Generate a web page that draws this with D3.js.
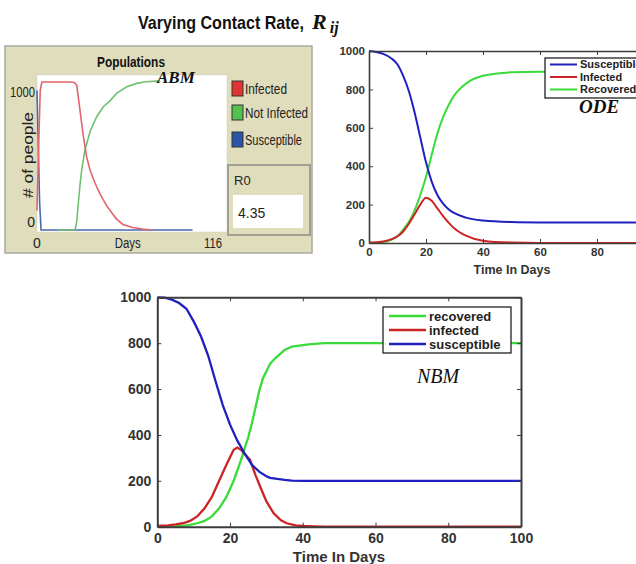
<!DOCTYPE html>
<html>
<head>
	<meta charset="utf-8">
	<title>Varying Contact Rate</title>
	<style type="text/css">
		body { margin: 0; background: #fff; }
		svg { display: block; }
		.tk text { font-family: 'Liberation Sans', Arial, sans-serif; font-weight: bold; fill: #333; }
		.tk path, .tk line { stroke: #3c3c3c; }
	</style>
	<script src="https://d3js.org/d3.v7.min.js"></script>
</head>
<body>
	<svg width="636" height="564"></svg>
	<script type="text/javascript">
		// ---- data: [day, people] ----
		// ABM (NetLogo screenshot)
		const abmSusceptible = [[0,1000],[0.8,600],[1.6,200],[2.5,0],[96,0]];
		const abmInfected = [[0,140],[1,600],[2,1000],[3,1060],[20,1060],[23,1056],[24.5,1040],[25.5,950],[26.5,860],[28.6,670],[30.6,525],[32.7,430],[34.8,365],[36.8,310],[38.8,260],[40.9,215],[43.5,165],[46,125],[49,80],[53,40],[59,18],[65,7],[71,0]];
		const abmNotInfected = [[13,0],[23.5,0],[24.5,60],[25.5,193],[26.5,320],[27.6,430],[29.6,573],[32.7,704],[36.8,811],[40.9,883],[45,925],[49.2,980],[55.4,1026],[61.5,1050],[67,1062],[76,1068]];
		const abmLegend = ['Infected', 'Not Infected', 'Susceptible'];
		const r0Value = '4.35';

		// ODE
		const odeSusceptible = [[0,1000],[5,985],[8,960],[10,930],[12,870],[14,790],[16,680],[18,550],[20,420],[22,320],[24,250],[26,205],[28,175],[30,155],[34,132],[40,117],[50,109],[60,107],[100,106]];
		const odeInfected = [[0,2],[5,8],[8,20],[10,35],[12,60],[14,100],[16,150],[18,200],[20,236],[22,220],[24,180],[26,140],[28,105],[30,75],[34,38],[40,12],[50,2],[60,0],[100,0]];
		const odeRecovered = [[0,0],[5,5],[8,18],[10,35],[12,70],[14,110],[16,170],[18,250],[20,344],[22,460],[24,570],[26,655],[28,720],[30,770],[34,830],[40,871],[50,889],[60,892],[100,893]];
		const odeLegend = ['Susceptible', 'Infected', 'Recovered'];

		// NBM
		const nbmSusceptible = [[0,1000],[2,998],[4,990],[6,975],[8,950],[10,895],[12,830],[14,745],[16,635],[18,530],[20,445],[22,375],[24,320],[26,270],[28,240],[30,220],[31,213],[33,208],[35,204],[37,201],[40,200],[100,200]];
		const nbmInfected = [[0,3],[3,6],[5,10],[7,15],[9,25],[11,45],[13,80],[15,130],[17,200],[19,270],[21,335],[22,345],[23,335],[25.5,291],[27,225],[28.3,174],[30,110],[32,58],[34,28],[35.6,15],[38,6],[40,3],[43,1],[46,0],[100,0]];
		const nbmRecovered = [[0,0],[5,2],[7,4],[9,8],[11,15],[13,25],[15,45],[17,80],[19,130],[21,200],[22,245],[23,290],[24,340],[25,390],[26,450],[27,520],[28,590],[29,645],[31,710],[32.4,734],[35,770],[37,785],[41.6,795],[46,800],[100,800]];
		const nbmLegend = ['recovered', 'infected', 'susceptible'];

		const ticks100 = [0, 20, 40, 60, 80, 100];
		const ticks1000 = [0, 200, 400, 600, 800, 1000];

		var svg = d3.select('svg');

		// title
		var title = svg.append('text')
			.attr('x', 138).attr('y', 29)
			.attr('font-family', "'Liberation Sans', Arial, sans-serif")
			.attr('font-weight', 'bold')
			.attr('font-size', 19)
			.attr('fill', '#111');
		title.append('tspan').text('Varying Contact Rate,')
			.attr('textLength', 166).attr('lengthAdjust', 'spacingAndGlyphs');
		title.append('tspan').text('R').attr('dx', 8)
			.attr('font-family', "'Liberation Serif', serif")
			.attr('font-style', 'italic').attr('font-size', 22);
		title.append('tspan').text('ij').attr('dy', 4).attr('dx', 3)
			.attr('font-family', "'Liberation Serif', serif")
			.attr('font-style', 'italic').attr('font-size', 16);

		// ================= ABM panel =================
		var abm = svg.append('g');
		abm.append('rect')
			.attr('x', 5).attr('y', 46).attr('width', 307).attr('height', 207)
			.attr('fill', '#e0ddbd').attr('stroke', '#a9a9a1').attr('stroke-width', 1.5);

		var xA = d3.scaleLinear().domain([0, 116]).range([37, 225]);
		var yA = d3.scaleLinear().domain([0, 1110]).range([230, 75]);

		abm.append('rect')
			.attr('x', xA(0)).attr('y', yA(1110))
			.attr('width', 190).attr('height', 157)
			.attr('fill', '#fff').attr('stroke', '#d0cfc0').attr('stroke-width', 0.5);

		var lineA = d3.line().x(d => xA(d[0])).y(d => yA(d[1]));
		[[abmSusceptible, '#4b6aae'], [abmNotInfected, '#73bf70'], [abmInfected, '#e2646c']].forEach(s => {
			abm.append('path').attr('d', lineA(s[0]))
				.attr('fill', 'none').attr('stroke', s[1]).attr('stroke-width', 1.6);
		});

		var nl = "'Liberation Sans', Arial, sans-serif";
		abm.append('text').attr('x', 131).attr('y', 67).attr('text-anchor', 'middle')
			.attr('font-family', nl).attr('font-weight', 'bold').attr('font-size', 14)
			.attr('textLength', 68).attr('lengthAdjust', 'spacingAndGlyphs')
			.attr('fill', '#111').text('Populations');
		abm.append('text').attr('x', 157).attr('y', 83)
			.attr('font-family', "'Liberation Serif', serif").attr('font-style', 'italic')
			.attr('font-weight', 'bold').attr('font-size', 17).attr('fill', '#111').text('ABM');

		// axis labels
		abm.append('text').attr('x', 35).attr('y', yA(1000) + 7).attr('text-anchor', 'end')
			.attr('font-family', nl).attr('font-size', 14).attr('textLength', 25)
			.attr('lengthAdjust', 'spacingAndGlyphs').attr('fill', '#222').text('1000');
		abm.append('text').attr('x', 35).attr('y', yA(0) - 3).attr('text-anchor', 'end')
			.attr('font-family', nl).attr('font-size', 14).attr('fill', '#222').text('0');
		abm.append('text').attr('transform', 'translate(33,155) rotate(-90)')
			.attr('text-anchor', 'middle').attr('font-family', nl).attr('font-size', 14)
			.attr('textLength', 86).attr('lengthAdjust', 'spacingAndGlyphs')
			.attr('fill', '#222').text('# of people');
		abm.append('text').attr('x', xA(0)).attr('y', 248).attr('text-anchor', 'middle')
			.attr('font-family', nl).attr('font-size', 14).attr('fill', '#222').text('0');
		abm.append('text').attr('x', xA(56)).attr('y', 248).attr('text-anchor', 'middle')
			.attr('font-family', nl).attr('font-size', 14).attr('textLength', 26)
			.attr('lengthAdjust', 'spacingAndGlyphs').attr('fill', '#222').text('Days');
		abm.append('text').attr('x', 222).attr('y', 248).attr('text-anchor', 'end')
			.attr('font-family', nl).attr('font-size', 14).attr('textLength', 18)
			.attr('lengthAdjust', 'spacingAndGlyphs').attr('fill', '#222').text('116');

		// legend
		var abmCols = ['#e03434', '#54c050', '#2a55a5'];
		var legLen = [42, 63, 57];
		abm.selectAll('.abmleg').data(abmLegend).enter().append('g')
			.attr('transform', (d, i) => 'translate(232,' + [81, 105, 132][i] + ')')
			.each(function (d, i) {
				var g = d3.select(this);
				g.append('rect').attr('width', 11).attr('height', 15)
					.attr('fill', abmCols[i]).attr('stroke', '#333').attr('stroke-width', 1);
				g.append('text').attr('x', 13).attr('y', 12.5)
					.attr('font-family', nl).attr('font-size', 15)
					.attr('textLength', legLen[i]).attr('lengthAdjust', 'spacingAndGlyphs')
					.attr('fill', '#222').text(d);
			});

		// R0 monitor
		abm.append('rect').attr('x', 228).attr('y', 165).attr('width', 82).attr('height', 70)
			.attr('fill', '#e0ddbd').attr('stroke', '#8c8c84').attr('stroke-width', 1.5);
		abm.append('rect').attr('x', 233).attr('y', 195).attr('width', 70).attr('height', 33)
			.attr('fill', '#fff');
		abm.append('text').attr('x', 234).attr('y', 185).attr('font-family', nl)
			.attr('font-size', 13).attr('fill', '#222').text('R0');
		abm.append('text').attr('x', 238).attr('y', 218).attr('font-family', nl)
			.attr('font-size', 14).attr('fill', '#222').text(r0Value);

		// ================= Matlab-style panels =================
		function matlabPanel(opt) {
			var g = svg.append('g');
			var x = opt.x, y = opt.y;
			var line = d3.line().x(d => x(d[0])).y(d => y(d[1])).curve(opt.curve);

			g.append('rect')
				.attr('x', x.range()[0]).attr('y', y.range()[1])
				.attr('width', x.range()[1] - x.range()[0])
				.attr('height', y.range()[0] - y.range()[1])
				.attr('fill', '#fff');

			opt.series.forEach(s => {
				g.append('path').attr('d', line(s.data))
					.attr('fill', 'none').attr('stroke', s.col).attr('stroke-width', opt.lw);
			});

			var fs = opt.fs;
			g.append('g').attr('class', 'tk')
				.attr('transform', 'translate(0,' + y.range()[0] + ')')
				.call(d3.axisBottom(x).tickValues(ticks100).tickFormat(d3.format('d'))
					.tickSizeInner(-4).tickSizeOuter(0).tickPadding(opt.xpad))
				.call(a => a.selectAll('text').attr('font-size', fs)
					.filter(d => x(d) > 630).remove())
				.call(a => a.select('.domain').attr('stroke-width', opt.aw));
			g.append('g').attr('class', 'tk')
				.attr('transform', 'translate(0,' + y.range()[1] + ')')
				.call(d3.axisTop(x).tickValues(ticks100).tickSizeInner(-4).tickSizeOuter(0).tickFormat(''))
				.call(a => a.select('.domain').attr('stroke-width', opt.aw));
			g.append('g').attr('class', 'tk')
				.attr('transform', 'translate(' + x.range()[0] + ',0)')
				.call(d3.axisLeft(y).tickValues(ticks1000).tickFormat(d3.format('d'))
					.tickSizeInner(-4).tickSizeOuter(0).tickPadding(opt.ypad))
				.call(a => a.selectAll('text').attr('font-size', fs))
				.call(a => a.select('.domain').attr('stroke-width', opt.aw));
			g.append('g').attr('class', 'tk')
				.attr('transform', 'translate(' + x.range()[1] + ',0)')
				.call(d3.axisRight(y).tickValues(ticks1000).tickSizeInner(-4).tickSizeOuter(0).tickFormat(''))
				.call(a => a.select('.domain').attr('stroke-width', opt.aw));

			g.append('text')
				.attr('x', opt.xlab[0]).attr('y', opt.xlab[1]).attr('text-anchor', 'middle')
				.attr('font-family', "'Liberation Sans', Arial, sans-serif").attr('font-weight', 'bold')
				.attr('font-size', opt.xlab[2]).attr('fill', '#333').text('Time In Days');

			// legend
			var L = opt.legend;
			g.append('rect').attr('x', L.x).attr('y', L.y).attr('width', L.w).attr('height', L.h)
				.attr('fill', '#fff').attr('stroke', '#222').attr('stroke-width', 1.3);
			L.items.forEach((s, i) => {
				var yy = L.y + L.first + i * L.step;
				g.append('line').attr('x1', L.x + L.l0).attr('x2', L.x + L.l1)
					.attr('y1', yy).attr('y2', yy).attr('stroke', s.col).attr('stroke-width', opt.lw);
				g.append('text').attr('x', L.x + L.l1 + 3).attr('y', yy + L.fs * 0.36)
					.attr('font-family', "'Liberation Sans', Arial, sans-serif").attr('font-weight', 'bold')
					.attr('font-size', L.fs).attr('fill', '#222').text(s.name);
			});

			g.append('text').attr('x', opt.tag[0]).attr('y', opt.tag[1])
				.attr('font-family', "'Liberation Serif', serif").attr('font-style', 'italic')
				.attr('font-weight', opt.tag[3]).attr('font-size', opt.tag[2]).attr('fill', '#111')
				.text(opt.tag[4]);
		}

		var blue = '#2020c0', red = '#cc2424', green = '#3ada3a';

		matlabPanel({
			x: d3.scaleLinear().domain([0, 100]).range([369, 654]),
			y: d3.scaleLinear().domain([0, 1000]).range([243, 51]),
			curve: d3.curveMonotoneX, lw: 2, aw: 1.6, fs: 11.5, xpad: 5, ypad: 4,
			series: [{data: odeRecovered, col: green}, {data: odeInfected, col: red}, {data: odeSusceptible, col: blue}],
			xlab: [512, 274, 12.5],
			legend: {x: 545, y: 58, w: 110, h: 40, first: 6.5, step: 12.5, l0: 5, l1: 32, fs: 11,
				items: [{name: odeLegend[0], col: blue}, {name: odeLegend[1], col: red}, {name: odeLegend[2], col: green}]},
			tag: [579, 113, 19, 'bold', 'ODE']
		});

		matlabPanel({
			x: d3.scaleLinear().domain([0, 100]).range([157.3, 521]),
			y: d3.scaleLinear().domain([0, 1000]).range([526.7, 297.3]),
			curve: d3.curveLinear, lw: 2.3, aw: 2, fs: 14, xpad: 6, ypad: 6,
			series: [{data: nbmRecovered, col: green}, {data: nbmInfected, col: red}, {data: nbmSusceptible, col: blue}],
			xlab: [339, 562, 15],
			legend: {x: 383, y: 307, w: 128, h: 46, first: 9, step: 14, l0: 6, l1: 43, fs: 13,
				items: [{name: nbmLegend[0], col: green}, {name: nbmLegend[1], col: red}, {name: nbmLegend[2], col: blue}]},
			tag: [417, 383, 20, 'normal', 'NBM']
		});
	</script>
</body>
</html>
